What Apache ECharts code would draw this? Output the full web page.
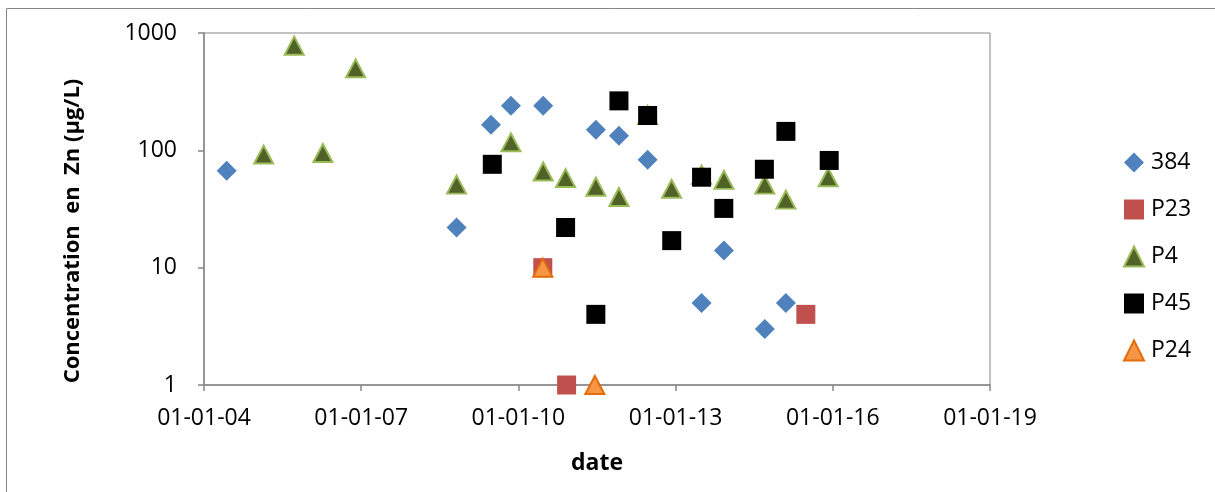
<!DOCTYPE html>
<html>
<head>
<meta charset="utf-8">
<script src="https://cdn.jsdelivr.net/npm/echarts@6/dist/echarts.min.js"></script>
<style>
  html, body { margin: 0; padding: 0; background: #ffffff; }
  #chart { width: 1215px; height: 492px; }
</style>
</head>
<body>
<div id="chart"></div>
<script>
// Zinc concentration (µg/L) per sampling point, by sampling date
const s384Dates  = ['2004-06-07','2008-10-27','2009-06-24','2009-11-10','2010-06-23','2011-06-25','2011-12-03','2012-06-20','2013-07-01','2013-12-04','2014-09-15','2015-02-09'];
const s384Values = [67, 22, 165, 240, 240, 150, 133, 83, 5, 14, 3, 5];

const p23Dates  = ['2010-06-20','2010-12-03','2015-06-28'];
const p23Values = [10, 1, 4];

const p4Dates  = ['2005-02-20','2005-09-21','2006-04-09','2006-11-23','2008-10-27','2009-11-10','2010-06-23','2010-11-26','2011-06-25','2011-12-03','2012-06-20','2012-12-04','2013-07-01','2013-12-04','2014-09-15','2015-02-09','2015-12-01'];
const p4Values = [92, 780, 95, 500, 51, 117, 66, 58, 49, 40, 200, 47, 62, 56, 51, 38, 59];

const p45Dates  = ['2009-07-03','2010-11-26','2011-06-25','2011-12-03','2012-06-20','2012-12-05','2013-07-01','2013-12-03','2014-09-12','2015-02-09','2015-12-08'];
const p45Values = [76, 22, 4, 264, 198, 17, 59, 32, 69, 145, 82];

const p24Dates  = ['2010-06-20','2011-06-18'];
const p24Values = [10, 1];

const xTickLabels = ['01-01-04','01-01-07','01-01-10','01-01-13','01-01-16','01-01-19'];
const yTitle = 'Concentration  en  Zn (µg/L)';

// x positions are days since 01-01-2004; ticks every three years
const DAY = 86400000;
const ORIGIN = Date.UTC(2004, 0, 1);
const TICK_DAYS = 1096;
function dayOffset(s) {
  const p = s.split('-').map(Number);
  return (Date.UTC(p[0], p[1] - 1, p[2]) - ORIGIN) / DAY;
}
function pairs(dates, values) {
  return dates.map((d, i) => [dayOffset(d), values[i]]);
}

const FONT = 'Open Sans';
const FS = 23;
const AXIS_GREY = '#868686';

const chart = echarts.init(document.getElementById('chart'), null, { renderer: 'canvas' });

chart.setOption({
  backgroundColor: '#ffffff',
  animation: false,
  graphic: [
    {
      type: 'rect',
      shape: { x: 6.5, y: 8.5, width: 1230, height: 520 },
      style: { fill: 'none', stroke: AXIS_GREY, lineWidth: 1 },
      silent: true
    },
    {
      // vertical axis title, centred a little below the plot middle
      type: 'text',
      x: 73, y: 231,
      rotation: Math.PI / 2,
      style: {
        text: yTitle,
        fontFamily: FONT, fontSize: FS - 1, fontWeight: 'bold', fill: '#000',
        align: 'center', verticalAlign: 'middle'
      },
      silent: true
    }
  ],
  grid: {
    left: 204, top: 33, width: 786, height: 352,
    show: true, borderColor: AXIS_GREY, borderWidth: 1, backgroundColor: 'transparent'
  },
  legend: {
    orient: 'vertical',
    left: 1118, top: 146,
    itemWidth: 20, itemHeight: 20, itemGap: 24,
    textStyle: { fontFamily: FONT, fontSize: FS, color: '#000', padding: [0, 0, 0, 2] },
    data: ['384', 'P23', 'P4', 'P45', 'P24']
  },
  xAxis: {
    type: 'value',
    min: 0, max: TICK_DAYS * 5, interval: TICK_DAYS,
    name: 'date', nameLocation: 'middle', nameGap: 67,
    nameTextStyle: { fontFamily: FONT, fontSize: FS, fontWeight: 'bold', color: '#000' },
    axisLine: { show: true, onZero: false, lineStyle: { color: AXIS_GREY, width: 1.5 } },
    axisTick: { show: true, inside: false, length: 6, lineStyle: { color: AXIS_GREY, width: 1.5 } },
    axisLabel: {
      margin: 22,
      fontFamily: FONT, fontSize: FS, color: '#000',
      formatter: v => xTickLabels[Math.round(v / TICK_DAYS)] || ''
    },
    splitLine: { show: false }
  },
  yAxis: {
    type: 'log', logBase: 10, min: 1, max: 1000,
    axisLine: { show: true, lineStyle: { color: AXIS_GREY, width: 1.5 } },
    axisTick: { show: true, inside: false, length: 6, lineStyle: { color: AXIS_GREY, width: 1.5 } },
    axisLabel: { margin: 27, fontFamily: FONT, fontSize: FS, color: '#000', formatter: v => String(Math.round(v)) },
    splitLine: { show: false },
    minorTick: { show: false }
  },
  series: [
    {
      name: '384', type: 'scatter', clip: false,
      symbol: 'diamond', symbolSize: 20,
      itemStyle: { color: '#4f81bd', opacity: 1 },
      data: pairs(s384Dates, s384Values)
    },
    {
      name: 'P23', type: 'scatter', clip: false,
      symbol: 'rect', symbolSize: 19,
      itemStyle: { color: '#c0504d', opacity: 1 },
      data: pairs(p23Dates, p23Values)
    },
    {
      name: 'P4', type: 'scatter', clip: false,
      symbol: 'triangle', symbolSize: [19, 18],
      itemStyle: { color: '#4f6228', borderColor: '#9bbb59', borderWidth: 2, opacity: 1 },
      data: pairs(p4Dates, p4Values)
    },
    {
      name: 'P45', type: 'scatter', clip: false,
      symbol: 'rect', symbolSize: 19,
      itemStyle: { color: '#000000', opacity: 1 },
      data: pairs(p45Dates, p45Values)
    },
    {
      name: 'P24', type: 'scatter', clip: false,
      symbol: 'triangle', symbolSize: [19, 18],
      itemStyle: { color: '#f79646', borderColor: '#e46c0a', borderWidth: 2, opacity: 1 },
      data: pairs(p24Dates, p24Values)
    }
  ]
});
</script>
</body>
</html>
